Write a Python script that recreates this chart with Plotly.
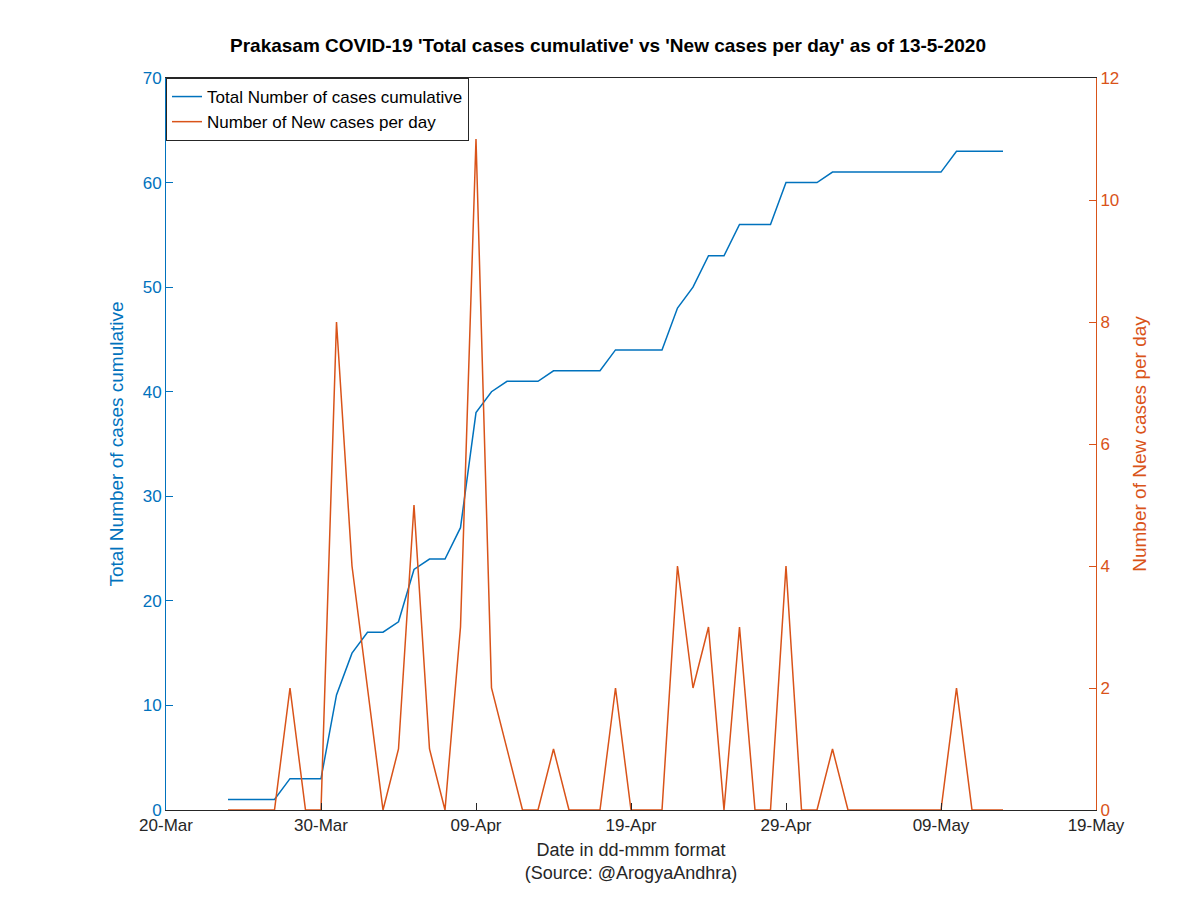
import plotly.graph_objects as go
import pandas as pd

dates = pd.date_range("2020-03-24", "2020-05-13").strftime("%Y-%m-%d").tolist()
cumulative = [1,1,1,1,3,3,3,11,15,17,17,18,23,24,24,27,38,40,41,41,41,42,42,42,42,44,44,44,44,48,50,53,53,56,56,56,60,60,60,61,61,61,61,61,61,61,61,63,63,63,63]
new_cases = [0,0,0,0,2,0,0,8,4,2,0,1,5,1,0,3,11,2,1,0,0,1,0,0,0,2,0,0,0,4,2,3,0,3,0,0,4,0,0,1,0,0,0,0,0,0,0,2,0,0,0]
tick_vals = ["2020-03-20","2020-03-30","2020-04-09","2020-04-19","2020-04-29","2020-05-09","2020-05-19"]
tick_text = ["20-Mar","30-Mar","09-Apr","19-Apr","29-Apr","09-May","19-May"]

blue = "#0072BD"; orange = "#D95319"
fig = go.Figure()
fig.add_trace(go.Scatter(x=dates, y=cumulative, mode="lines", name="Total Number of cases cumulative",
                         line=dict(color=blue, width=1.5)))
fig.add_trace(go.Scatter(x=dates, y=new_cases, mode="lines", name="Number of New cases per day",
                         line=dict(color=orange, width=1.5), yaxis="y2"))
font = "Liberation Sans, Arial, sans-serif"
fig.update_layout(
    width=1200, height=898, plot_bgcolor="white", paper_bgcolor="white",
    margin=dict(l=158, r=112, t=70, b=96, autoexpand=False),
    font=dict(family=font, size=17, color="#262626"),
    title=dict(text="<b>Prakasam COVID-19 'Total cases cumulative' vs 'New cases per day' as of 13-5-2020</b>",
               x=0.5, xanchor="center", y=0.958, yanchor="middle", font=dict(size=19, color="black")),
    xaxis=dict(range=["2020-03-20","2020-05-19"], tickvals=tick_vals, ticktext=tick_text, automargin=False,
               showgrid=False, zeroline=False, showline=True, linecolor="#262626", mirror=True,
               ticks="inside", ticklen=7, tickcolor="#262626",
               title=dict(text="Date in dd-mmm format<br>(Source: @ArogyaAndhra)", font=dict(size=18, color="#262626"), standoff=8),
               tickfont=dict(size=17, color="#262626")),
    yaxis=dict(range=[0,70], dtick=10, showgrid=False, zeroline=False, showline=True, linecolor=blue, automargin=False,
               ticks="inside", ticklen=7, tickcolor=blue, tickfont=dict(color=blue, size=17),
               title=dict(text="Total Number of cases cumulative", font=dict(color=blue, size=19), standoff=14)),
    yaxis2=dict(range=[0,12], dtick=2, overlaying="y", side="right", showgrid=False, zeroline=False, automargin=False,
                showline=True, linecolor=orange, ticks="inside", ticklen=7, tickcolor=orange,
                tickfont=dict(color=orange, size=17),
                title=dict(text="Number of New cases per day", font=dict(color=orange, size=19), standoff=14)),
    legend=dict(x=0.0, y=1.0, xanchor="left", yanchor="top", bgcolor="rgba(255,255,255,0)",
                bordercolor="#262626", borderwidth=1, font=dict(size=17, color="black"),
                tracegroupgap=0, itemwidth=30),
    showlegend=True,
)
fig.write_html("out.html")
